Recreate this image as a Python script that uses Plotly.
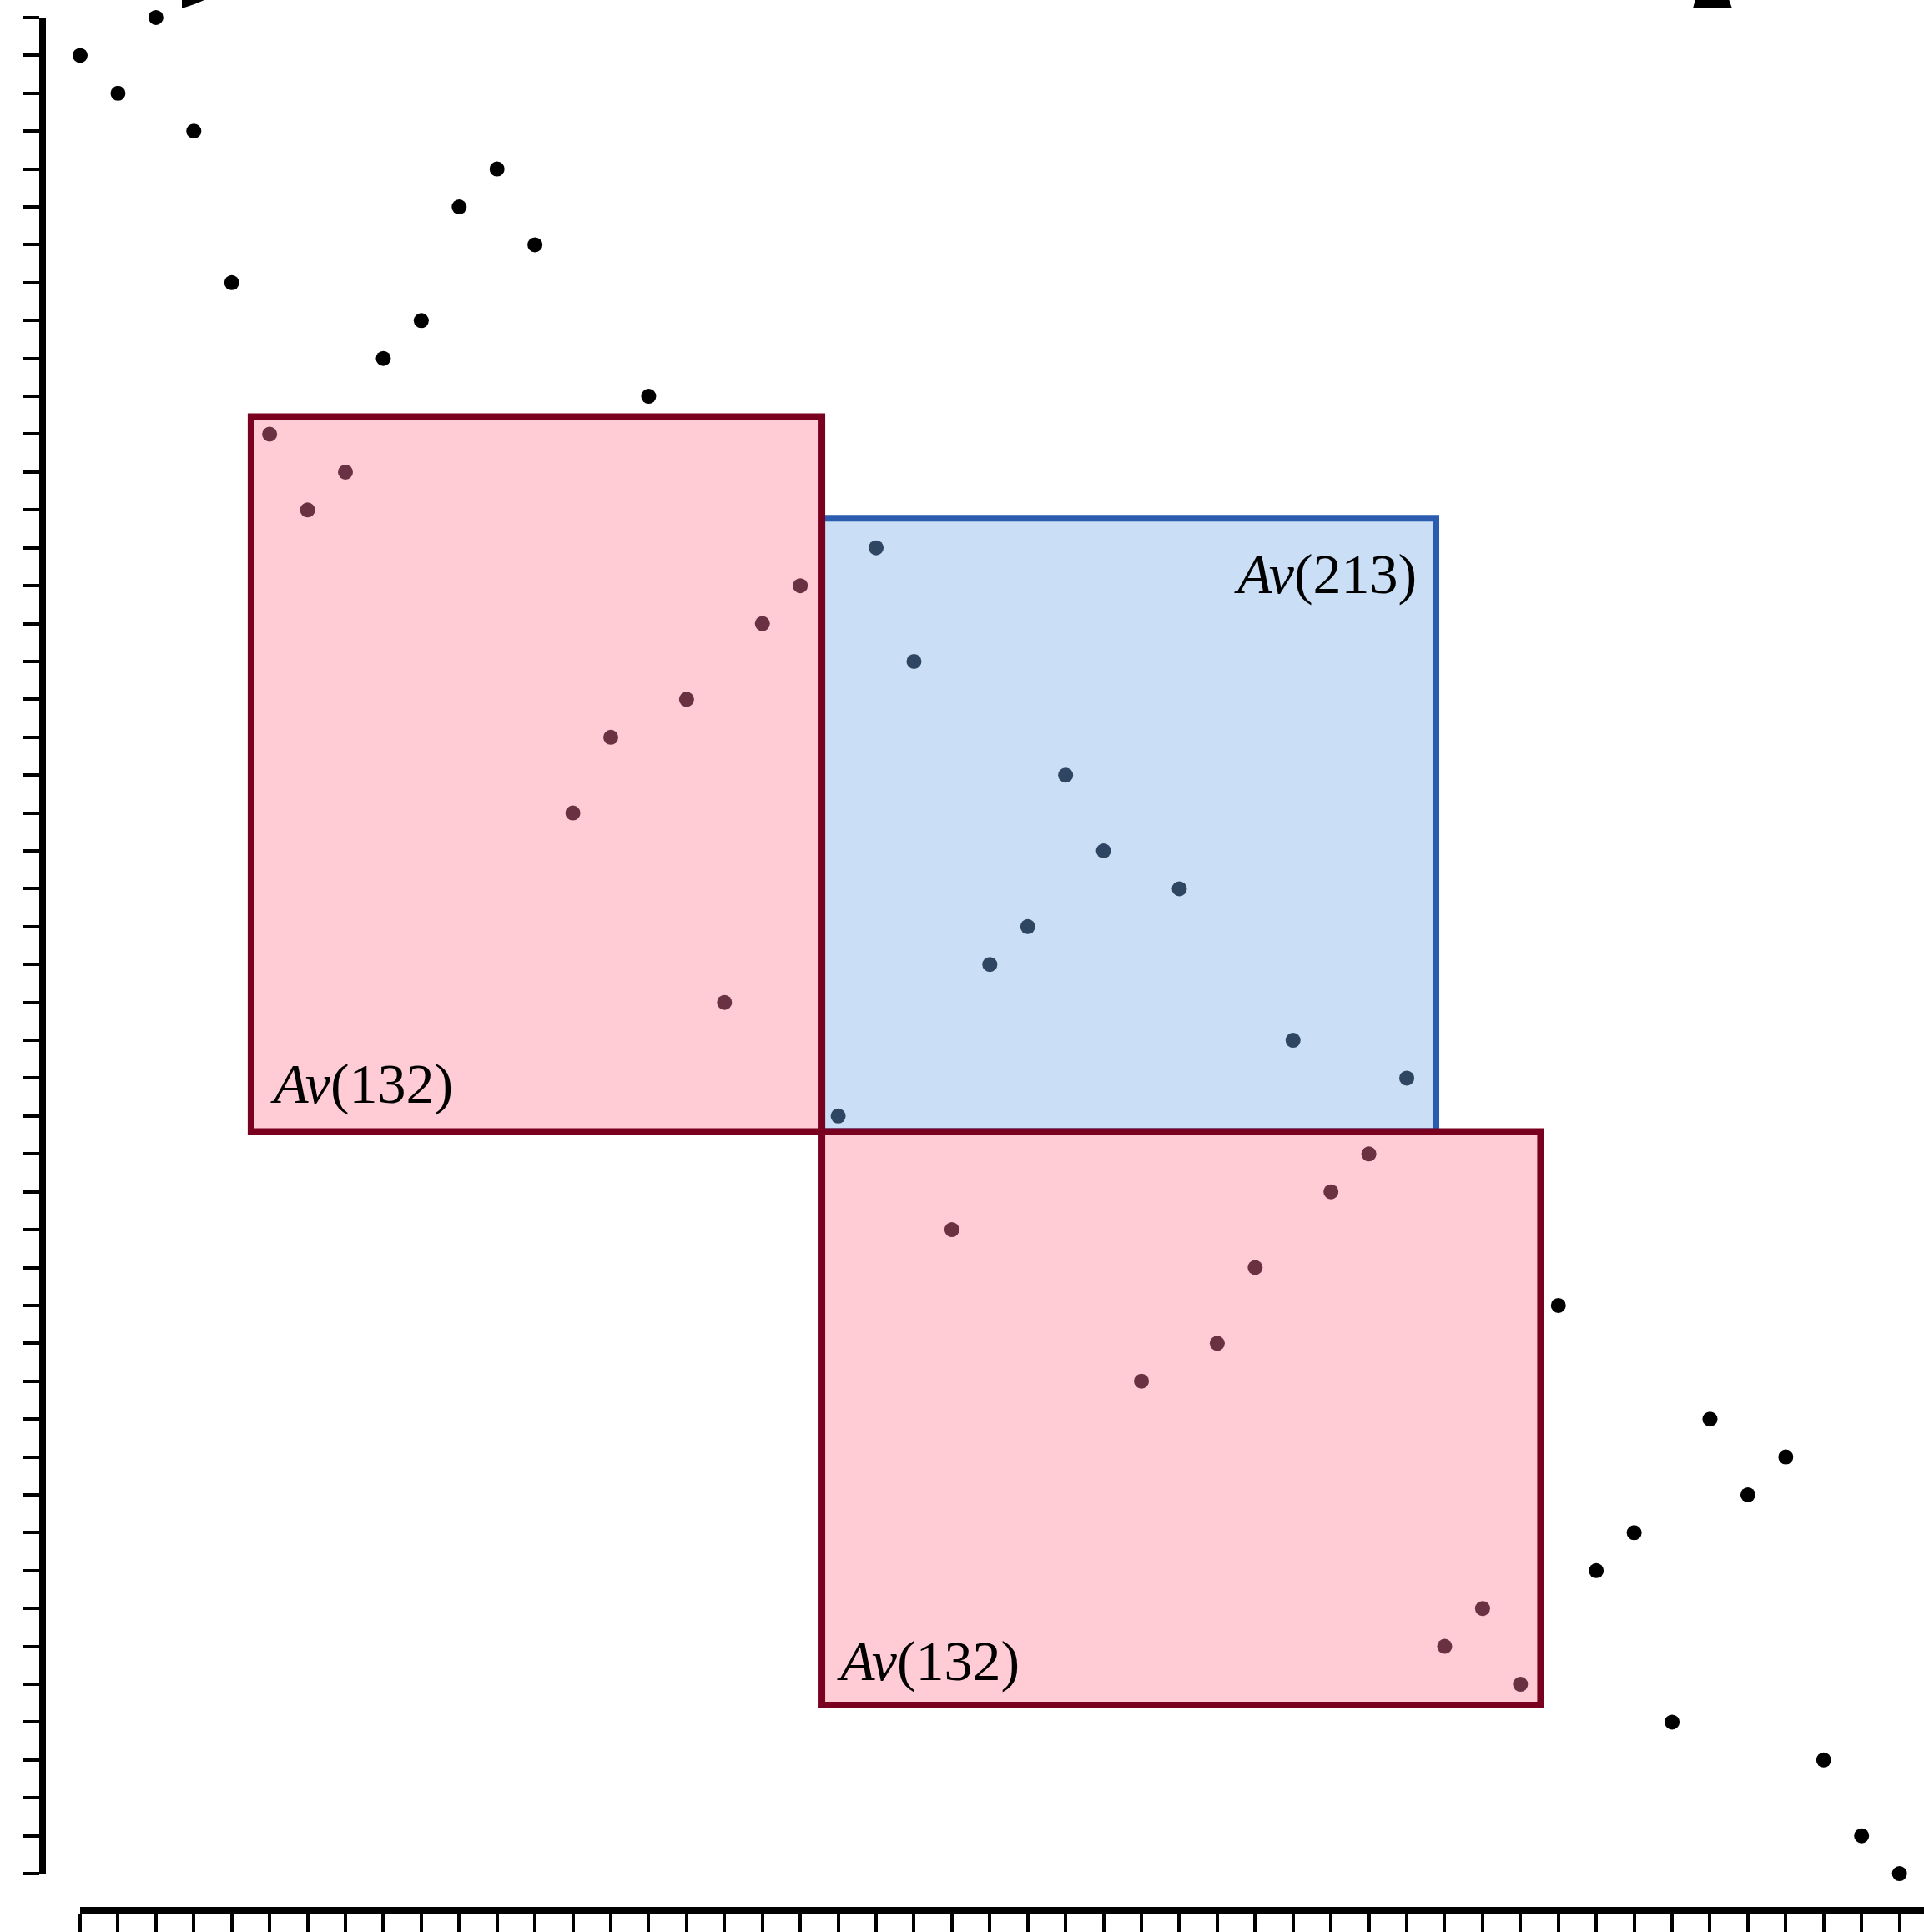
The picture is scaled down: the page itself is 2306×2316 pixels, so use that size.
import plotly.graph_objects as go

W, H = 2306, 2316

# Permutation diagram: one dot per column, row counted from the top
columns = list(range(49))
rows = [1, 2, 0, 3, 7, 11, 13, 12, 9, 8, 5, 4, 6, 21, 19, 10, 18, 26, 16, 15,
        29, 14, 17, 32, 25, 24, 20, 22, 36, 23, 35, 33, 27, 31, 30, 28, 43, 42,
        44, 34, 41, 40, 45, 37, 39, 38, 46, 48, 49]
x_ticks = list(range(49))
y_ticks = list(range(50))

# Highlighted blocks (in grid units) and their class labels
region_labels = ["Av(132)", "Av(213)", "Av(132)"]
region_kind = ["pink", "blue", "pink"]
region_x0 = [4.51, 19.57, 19.57]
region_x1 = [19.57, 35.77, 38.53]
region_y0 = [10.54, 13.22, 29.41]
region_y1 = [29.41, 29.41, 44.55]

STYLE = {
    "pink": dict(fill="#FFCCD5", line="#7A0020", dot="#6A3142"),
    "blue": dict(fill="#CADFF5", line="#2B5CB0", dot="#2E4661"),
}

# pixel geometry of the axes
Y_TOP, Y_BOT = 21, 2248          # first / last row tick
X_LEFT = 96                      # first column tick
STEP = 45.43
Y_AXIS_X = 51
X_AXIS_Y = 2292


def dot_color(c, r):
    color = "black"
    for k, x0, x1, y0, y1 in zip(region_kind, region_x0, region_x1, region_y0, region_y1):
        if x0 <= c <= x1 and y0 <= r <= y1:
            color = STYLE[k]["dot"]
    return color


fig = go.Figure()

# boxes: blue first so the red borders sit on top of it
shapes = []
order = [1, 0, 2]
for i in order:
    st = STYLE[region_kind[i]]
    shapes.append(dict(type="rect", xref="x", yref="y",
                       x0=region_x0[i], x1=region_x1[i],
                       y0=region_y0[i], y1=region_y1[i],
                       fillcolor=st["fill"], line=dict(color=st["line"], width=8),
                       layer="below"))

# fragments of glyphs cut off at the top edge
def px(x):
    return x / W


def py(y):
    return 1 - y / H


shapes.append(dict(type="path", xref="paper", yref="paper",
                   path=f"M {px(218)} {py(0)} L {px(218)} {py(10)} "
                        f"Q {px(232)} {py(6)} {px(245)} {py(0)} Z",
                   fillcolor="black", line=dict(width=0)))
shapes.append(dict(type="path", xref="paper", yref="paper",
                   path=f"M {px(2032)} {py(-1)} L {px(2072)} {py(-1)} "
                        f"L {px(2076)} {py(10)} L {px(2029)} {py(10)} Z",
                   fillcolor="black", line=dict(width=0)))

fig.add_trace(go.Scatter(
    x=columns, y=rows, mode="markers",
    marker=dict(size=18, color=[dot_color(c, r) for c, r in zip(columns, rows)],
                line=dict(width=0)),
    cliponaxis=False, hoverinfo="skip", showlegend=False))

label_pos = [
    dict(x=4.98, y=28.15, xanchor="left"),
    dict(x=35.3, y=14.68, xanchor="right"),
    dict(x=19.93, y=43.38, xanchor="left"),
]
annotations = []
for lab, pos in zip(region_labels, label_pos):
    head, tail = lab[:2], lab[2:]
    annotations.append(dict(
        text=f"<i>{head}</i>{tail}", x=pos["x"], y=pos["y"], xref="x", yref="y",
        xanchor=pos["xanchor"], yanchor="middle", showarrow=False,
        font=dict(family="Liberation Serif", size=68, color="black")))

x_dom0 = X_LEFT / W
x_span = (W - X_LEFT) / STEP
fig.update_layout(
    width=W, height=H, margin=dict(l=0, r=0, t=0, b=0),
    paper_bgcolor="white", plot_bgcolor="rgba(0,0,0,0)",
    shapes=shapes, annotations=annotations,
    xaxis=dict(domain=[x_dom0, 1], range=[0, x_span], anchor="free",
               position=(H - X_AXIS_Y) / H,
               showline=True, linecolor="black", linewidth=9,
               ticks="outside", ticklen=26, tickwidth=4, tickcolor="black",
               tickvals=x_ticks, showticklabels=False,
               showgrid=False, zeroline=False),
    yaxis=dict(domain=[(H - Y_BOT) / H, (H - Y_TOP) / H], range=[49, 0],
               anchor="free", position=Y_AXIS_X / W,
               showline=True, linecolor="black", linewidth=8,
               ticks="outside", ticklen=20, tickwidth=4, tickcolor="black",
               tickvals=y_ticks, showticklabels=False,
               showgrid=False, zeroline=False),
)

fig.write_html("out.html")
